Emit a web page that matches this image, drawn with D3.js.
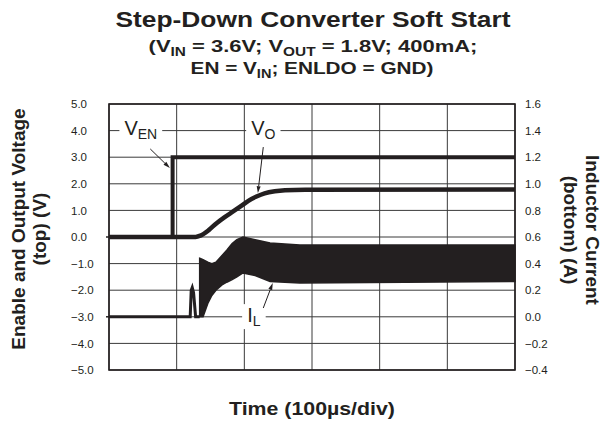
<!DOCTYPE html>
<html lang="en">
<head>
<meta charset="utf-8">
<script src="https://d3js.org/d3.v7.min.js"></script>
<style>
body { margin: 0; background: #fff; }
svg { font-family: "Liberation Sans", Arial, sans-serif; }
.tick text { font-size: 11.5px; fill: #231f20; }
.ttl { font-weight: bold; fill: #231f20; }
</style>
</head>
<body>
<script>

// ---- data read from the scope shot (time in µs, 100 µs/div) ----
var timeTicks = [0, 100, 200, 300, 400, 500, 600];
var voltTicks = [5, 4, 3, 2, 1, 0, -1, -2, -3, -4, -5];
var ampTicks = [1.6, 1.4, 1.2, 1.0, 0.8, 0.6, 0.4, 0.2, 0.0, -0.2, -0.4];

// enable pin
var venTime = [0, 94, 94, 600];
var venVolt = [0, 0, 3.0, 3.0];

// output voltage soft start ramp
var voTime = [0, 128, 135, 147, 159, 171, 184, 196, 206, 218, 230, 245, 260, 290, 600];
var voVolt = [0, 0, 0.05, 0.25, 0.52, 0.75, 0.97, 1.18, 1.36, 1.52, 1.64, 1.72, 1.76, 1.78, 1.79];

// inductor current before switching starts (thin trace + first pulse)
var ilTime = [0, 120, 121.5, 123, 125, 128, 134];
var ilAmp = [0, 0, 0.20, 0.22, 0.18, 0.0, 0.0];

// inductor current ripple band (upper / lower envelope)
var bandTime = [134, 139, 146, 152, 158, 167, 174, 182, 189, 198, 216, 238, 282, 600];
var bandUpper = [0.44, 0.43, 0.41, 0.40, 0.41, 0.46, 0.50, 0.55, 0.58, 0.60, 0.58, 0.555, 0.54, 0.54];
var bandLower = [0.0, 0.0, 0.10, 0.16, 0.20, 0.24, 0.26, 0.28, 0.30, 0.33, 0.31, 0.265, 0.255, 0.265];

var W = 612, H = 425;
var margin = {top: 104, right: 97, bottom: 55, left: 109};
var ink = "#231f20";

var svg = d3.select("body").append("svg")
    .attr("width", W)
    .attr("height", H);

var x = d3.scaleLinear().domain([0, 600]).range([margin.left, W - margin.right]);
var yV = d3.scaleLinear().domain([-5, 5]).range([H - margin.bottom, margin.top]);
var yI = d3.scaleLinear().domain([-0.4, 1.6]).range([H - margin.bottom, margin.top]);

// grid
svg.append("g").selectAll("line")
   .data(timeTicks)
   .enter().append("line")
   .attr("x1", d => x(d)).attr("x2", d => x(d))
   .attr("y1", yV(5)).attr("y2", yV(-5))
   .attr("stroke", "#3a3a3a").attr("stroke-width", 1);

svg.append("g").selectAll("line")
   .data(voltTicks)
   .enter().append("line")
   .attr("x1", x(0)).attr("x2", x(600))
   .attr("y1", d => yV(d)).attr("y2", d => yV(d))
   .attr("stroke", "#3a3a3a").attr("stroke-width", 1);

// axes (labels only, left aligned like the original)
var leftAxis = svg.append("g")
   .attr("transform", "translate(" + margin.left + ",0)")
   .call(d3.axisLeft(yV).tickValues(voltTicks).tickFormat(d3.format(".1f")).tickSize(0));
leftAxis.select(".domain").remove();
leftAxis.selectAll("text").attr("x", -38).attr("text-anchor", "start");

var rightAxis = svg.append("g")
   .attr("transform", "translate(" + (W - margin.right) + ",0)")
   .call(d3.axisRight(yI).tickValues(ampTicks).tickFormat(d3.format(".1f")).tickSize(0));
rightAxis.select(".domain").remove();
rightAxis.selectAll("text").attr("x", 10);

// ground markers on the left edge
svg.append("g").selectAll("line")
   .data([0, -3])
   .enter().append("line")
   .attr("x1", x(0) - 3).attr("x2", x(0))
   .attr("y1", d => yV(d)).attr("y2", d => yV(d))
   .attr("stroke", ink).attr("stroke-width", 1.5);

// traces
var band = d3.area()
   .x((d, i) => x(bandTime[i]))
   .y0((d, i) => yI(bandLower[i]))
   .y1((d, i) => yI(bandUpper[i]));

svg.append("path")
   .datum(bandTime)
   .attr("d", band)
   .attr("fill", ink)
   .attr("stroke", ink)
   .attr("stroke-width", 1.5);

var ilLine = d3.line().x((d, i) => x(ilTime[i])).y((d, i) => yI(ilAmp[i]));
svg.append("path")
   .datum(ilTime)
   .attr("d", ilLine)
   .attr("fill", "none").attr("stroke", ink).attr("stroke-width", 3);

var voLine = d3.line().x((d, i) => x(voTime[i])).y((d, i) => yV(voVolt[i])).curve(d3.curveMonotoneX);
svg.append("path")
   .datum(voTime)
   .attr("d", voLine)
   .attr("fill", "none").attr("stroke", ink).attr("stroke-width", 4.5);

var venLine = d3.line().x((d, i) => x(venTime[i])).y((d, i) => yV(venVolt[i]));
svg.append("path")
   .datum(venTime)
   .attr("d", venLine)
   .attr("fill", "none").attr("stroke", ink).attr("stroke-width", 4);

// frame
svg.append("rect")
   .attr("x", x(0)).attr("y", yV(5))
   .attr("width", x(600) - x(0)).attr("height", yV(-5) - yV(5))
   .attr("fill", "none").attr("stroke", ink).attr("stroke-width", 1.6);

// trace labels, with white boxes that cut the grid line
function traceLabel(cx, cy, main, sub) {
  var g = svg.append("g");
  var t = g.append("text")
     .attr("x", cx).attr("y", cy)
     .attr("text-anchor", "middle")
     .attr("fill", ink)
     .style("font-size", "20px");
  t.append("tspan").text(main);
  t.append("tspan").text(sub).attr("dy", 4).style("font-size", "14px");
  var b = t.node().getBBox();
  g.insert("rect", "text")
     .attr("x", b.x - 5).attr("y", b.y)
     .attr("width", b.width + 10).attr("height", b.height)
     .attr("fill", "#fff");
}
traceLabel(x(47), yV(3.83), "V", "EN");
traceLabel(x(228), yV(3.83), "V", "O");
traceLabel(x(214), yI(-0.04), "I", "L");

// arrows (start -> end, both given through the scales)
function arrow(x1, y1, x2, y2) {
  var dx = x2 - x1, dy = y2 - y1, len = Math.sqrt(dx * dx + dy * dy);
  var ux = dx / len, uy = dy / len, hl = 7, hw = 2;
  svg.append("line")
     .attr("x1", x1).attr("y1", y1)
     .attr("x2", x2 - ux * hl).attr("y2", y2 - uy * hl)
     .attr("stroke", ink).attr("stroke-width", 1);
  svg.append("path")
     .attr("d", "M" + x2 + "," + y2 +
                "L" + (x2 - ux * hl - uy * hw) + "," + (y2 - uy * hl + ux * hw) +
                "L" + (x2 - ux * hl + uy * hw) + "," + (y2 - uy * hl - ux * hw) + "Z")
     .attr("fill", ink);
}
arrow(x(61), yV(3.31), x(90), yV(2.59));
arrow(x(228), yV(3.38), x(220), yV(1.65));
arrow(x(228), yI(0.066), x(242), yI(0.254));

// titles, squeezed to the width they have in the original
function fitWidth(t, cx, w) {
  var b = t.node().getBBox();
  var s = w / b.width;
  t.attr("transform", "translate(" + cx + ",0) scale(" + s + ",1) translate(" + (-cx) + ",0)");
}
// parts: plain strings, or {sub: "..."} for a subscript
function subText(t, parts) {
  var shift = 0;
  parts.forEach(function(p) {
    var s = t.append("tspan");
    if (typeof p === "string") {
      s.text(p);
      if (shift) { s.attr("dy", -shift); shift = 0; }
    } else {
      s.text(p.sub).attr("dy", 4).style("font-size", "70%");
      shift = 4;
    }
  });
}

var title = svg.append("text").attr("class", "ttl")
   .attr("x", 313).attr("y", 27).attr("text-anchor", "middle")
   .style("font-size", "22px")
   .text("Step-Down Converter Soft Start");
fitWidth(title, 313, 396);

var sub1 = svg.append("text").attr("class", "ttl")
   .attr("x", 313).attr("y", 52).attr("text-anchor", "middle")
   .style("font-size", "17px");
subText(sub1, ["(V", {sub: "IN"}, " = 3.6V; V", {sub: "OUT"}, " = 1.8V; 400mA;"]);
fitWidth(sub1, 313, 329);

var sub2 = svg.append("text").attr("class", "ttl")
   .attr("x", 312).attr("y", 74).attr("text-anchor", "middle")
   .style("font-size", "17px");
subText(sub2, ["EN = V", {sub: "IN"}, "; ENLDO = GND)"]);
fitWidth(sub2, 312, 243);

var xTitle = svg.append("text").attr("class", "ttl")
   .attr("x", 312).attr("y", 415).attr("text-anchor", "middle")
   .style("font-size", "19px")
   .text("Time (100\u00b5s/div)");
fitWidth(xTitle, 312, 166);

// vertical axis titles
var ly = svg.append("text").attr("class", "ttl")
   .attr("transform", "translate(25,229) rotate(-90)")
   .attr("text-anchor", "middle")
   .style("font-size", "19px");
ly.append("tspan").attr("x", 0).attr("y", 0).text("Enable and Output Voltage");
ly.append("tspan").attr("x", 0).attr("y", 21).text("(top) (V)");

var ry = svg.append("text").attr("class", "ttl")
   .attr("transform", "translate(586,230) rotate(90)")
   .attr("text-anchor", "middle")
   .style("font-size", "19px");
ry.append("tspan").attr("x", 0).attr("y", 0).text("Inductor Current");
ry.append("tspan").attr("x", 0).attr("y", 22).text("(bottom) (A)");

</script>
</body>
</html>
